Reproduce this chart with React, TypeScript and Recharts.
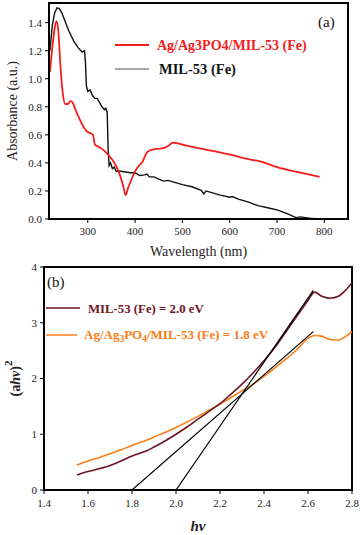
import React from "react";
import {
  LineChart,
  Line,
  XAxis,
  YAxis,
  ReferenceArea,
  Legend,
  Label,
} from "recharts";

// panel (a): UV-vis absorbance
const WL_COMPOSITE = [
  220, 226, 230, 234, 238, 242, 247, 252, 258, 263, 268, 275, 283, 292, 300,
  307, 311, 315, 320, 330, 340, 350, 358, 365, 372, 376, 380, 385, 392, 400,
  408, 416, 424, 432, 445, 460, 470, 480, 490, 500, 550, 600, 650, 660, 700,
  750, 790,
];
const ABS_COMPOSITE = [
  1.05, 1.25, 1.36, 1.41, 1.33, 1.1, 0.9, 0.82, 0.82, 0.84, 0.83, 0.77, 0.71,
  0.65, 0.62, 0.61, 0.6, 0.53, 0.52, 0.5, 0.47, 0.43, 0.39, 0.34, 0.27, 0.22,
  0.17, 0.22, 0.28, 0.34, 0.38, 0.41, 0.47, 0.49, 0.5, 0.505, 0.52, 0.545,
  0.54, 0.53, 0.495, 0.46, 0.42, 0.415, 0.37, 0.33, 0.3,
];
const WL_MIL = [
  220, 225, 230, 235, 240, 245, 252, 260, 270, 280, 288, 293, 295, 297, 300,
  305, 310, 315, 320, 325, 330, 335, 338, 341, 343, 345, 348, 352, 356, 360,
  370, 380, 390, 400, 410, 420, 425, 430, 440, 450, 460, 470, 480, 500, 520,
  540, 545, 550, 560, 580, 600, 605, 620, 640, 660, 680, 700, 720, 740, 750,
  760, 770, 785,
];
const ABS_MIL = [
  1.2, 1.38, 1.47, 1.505, 1.5, 1.47, 1.41, 1.34, 1.27, 1.22, 1.19, 1.2, 1.12,
  0.95, 0.91, 0.92, 0.88, 0.86, 0.86, 0.83, 0.8, 0.78, 0.79, 0.76, 0.5, 0.38,
  0.4, 0.36, 0.37, 0.34, 0.34, 0.335, 0.33, 0.33, 0.31, 0.315, 0.32, 0.3, 0.3,
  0.285, 0.27, 0.275, 0.265, 0.245, 0.23, 0.205, 0.18, 0.2, 0.19, 0.17, 0.155,
  0.16, 0.14, 0.12, 0.095, 0.08, 0.065, 0.04, 0.01, 0.015, 0.01, 0.005, 0,
];
const WL_TICKS = [300, 400, 500, 600, 700, 800];
const ABS_TICKS = [0, 0.2, 0.4, 0.6, 0.8, 1, 1.2, 1.4];

// panel (b): Tauc plot
const HV = [
  1.55, 1.6, 1.65, 1.7, 1.75, 1.8, 1.85, 1.87, 1.9, 1.95, 2.0, 2.05, 2.1, 2.15,
  2.2, 2.25, 2.3, 2.35, 2.4, 2.45, 2.5, 2.55, 2.6, 2.63, 2.66, 2.7, 2.74, 2.77,
  2.8,
];
const TAUC_MIL = [
  0.27, 0.33, 0.38, 0.44, 0.52, 0.61, 0.68, 0.71, 0.77, 0.88, 1.0, 1.13, 1.27,
  1.41, 1.55, 1.72, 1.9, 2.1, 2.32, 2.56, 2.84, 3.12, 3.4, 3.55, 3.48, 3.44,
  3.48, 3.58, 3.72,
];
const TAUC_COMPOSITE = [
  0.45, 0.52, 0.58, 0.65, 0.72, 0.8, 0.87, 0.9, 0.95, 1.03, 1.12, 1.22, 1.32,
  1.43, 1.54, 1.66, 1.78, 1.9, 2.04, 2.19, 2.35, 2.52, 2.72, 2.77, 2.76, 2.7,
  2.69, 2.75, 2.84,
];
const FIT_COMPOSITE_HV = [1.8, 2.624];
const FIT_COMPOSITE_Y = [0, 2.84];
const FIT_MIL_HV = [2.0, 2.624];
const FIT_MIL_Y = [0, 3.58];
const HV_TICKS = [1.4, 1.6, 1.8, 2.0, 2.2, 2.4, 2.6, 2.8];
const TAUC_TICKS = [0, 1, 2, 3, 4];

const SERIF = "Liberation Serif";
const RED = "#f21d1d";
const MAROON = "#6e1424";
const ORANGE = "#fb7d17";

const zip = (xs: number[], ys: number[], k: string) =>
  xs.map((x, i) => ({ x, [k]: ys[i] }));

const compositeAbs = zip(WL_COMPOSITE, ABS_COMPOSITE, "abs");
const milAbs = zip(WL_MIL, ABS_MIL, "abs");
const milTauc = zip(HV, TAUC_MIL, "y");
const compositeTauc = zip(HV, TAUC_COMPOSITE, "y");
const fitComposite = zip(FIT_COMPOSITE_HV, FIT_COMPOSITE_Y, "y");
const fitMil = zip(FIT_MIL_HV, FIT_MIL_Y, "y");

const tickStyle = { fontSize: 11, fill: "#222", fontFamily: SERIF };

function TopLegend() {
  return (
    <div style={{ position: "relative", height: 0 }}>
      <svg
        width={360}
        height={90}
        style={{ position: "absolute", left: 0, top: 0, overflow: "visible" }}
      >
        <line x1={115} x2={149} y1={45} y2={45} stroke={RED} strokeWidth={2} />
        <text x={157} y={49.5} fill={RED} fontWeight="bold" fontSize={14}>
          Ag/Ag3PO4/MIL-53 (Fe)
        </text>
        <line x1={115} x2={149} y1={69} y2={69} stroke="#555" strokeWidth={1} />
        <text x={159} y={74} fill="#111" fontWeight="bold" fontSize={14.5}>
          MIL-53 (Fe)
        </text>
        <text x={318} y={27} fill="#111" fontSize={15}>
          (a)
        </text>
      </svg>
    </div>
  );
}

function BottomLegend() {
  return (
    <div style={{ position: "relative", height: 0 }}>
      <svg
        width={360}
        height={90}
        style={{ position: "absolute", left: 0, top: 0, overflow: "visible" }}
      >
        <text x={47} y={27} fill="#111" fontSize={15}>
          (b)
        </text>
        <line x1={46} x2={80} y1={48} y2={48} stroke={MAROON} strokeWidth={1.5} />
        <text x={88} y={53} fill={MAROON} fontWeight="bold" fontSize={12.8}>
          MIL-53 (Fe) = 2.0 eV
        </text>
        <line x1={46} x2={77} y1={75} y2={75} stroke={ORANGE} strokeWidth={1.5} />
        <text x={84} y={79} fill={ORANGE} fontWeight="bold" fontSize={13}>
          Ag/Ag
          <tspan dy={3} fontSize={9.5}>3</tspan>
          <tspan dy={-3}>PO</tspan>
          <tspan dy={3} fontSize={9.5}>4</tspan>
          <tspan dy={-3}>/MIL-53 (Fe) = 1.8 eV</tspan>
        </text>
      </svg>
    </div>
  );
}

function AbsLabel(props: any) {
  const vb = props.viewBox || { y: 3, height: 216 };
  const cy = vb.y + vb.height / 2;
  return (
    <text
      x={12}
      y={cy}
      transform={`rotate(-90 12 ${cy})`}
      textAnchor="middle"
      dominantBaseline="central"
      fontSize={14}
      fill="#222"
    >
      Absorbance (a.u.)
    </text>
  );
}

function TaucLabel(props: any) {
  const vb = props.viewBox || { y: 7, height: 223 };
  const cy = vb.y + vb.height / 2;
  return (
    <text
      x={15}
      y={cy}
      transform={`rotate(-90 15 ${cy})`}
      textAnchor="middle"
      dominantBaseline="central"
      fontSize={14}
      fontWeight="bold"
      fill="#222"
    >
      (a<tspan fontStyle="italic">hv</tspan>)
      <tspan dy={-7} fontSize={11}>2</tspan>
    </text>
  );
}

export default function App() {
  return (
    <div
      style={{
        position: "absolute",
        left: 0,
        top: 0,
        width: 360,
        height: 535,
        background: "#fff",
        fontFamily: SERIF,
      }}
    >
      <style>{`svg text { font-family: "Liberation Serif", "Times New Roman", serif !important; }`}</style>
      <div style={{ position: "absolute", left: 0, top: 0 }}>
        <LineChart width={360} height={262} margin={{ top: 3, right: 12, bottom: 0, left: 0 }}>
          <XAxis
            type="number"
            dataKey="x"
            domain={[218, 850]}
            ticks={WL_TICKS}
            allowDataOverflow
            height={43}
            tick={tickStyle}
            tickSize={4}
            tickMargin={4}
            axisLine={{ stroke: "#000", strokeWidth: 2 }}
            tickLine={{ stroke: "#000" }}
          >
            <Label
              value="Wavelength (nm)"
              position="insideBottom"
              offset={6}
              style={{ fontSize: 14, fill: "#222" }}
            />
          </XAxis>
          <YAxis
            type="number"
            domain={[0, 1.54]}
            ticks={ABS_TICKS}
            allowDataOverflow
            width={49}
            tick={tickStyle}
            tickSize={4}
            tickMargin={3}
            tickFormatter={(v: number) => v.toFixed(1)}
            axisLine={{ stroke: "#000", strokeWidth: 2 }}
            tickLine={{ stroke: "#000" }}
            label={<AbsLabel />}
          />
          <ReferenceArea
            x1={218}
            x2={850}
            y1={0}
            y2={1.54}
            fill="none"
            stroke="#000"
            strokeWidth={2}
            ifOverflow="visible"
          />
          <Line
            data={milAbs}
            dataKey="abs"
            stroke="#111"
            strokeWidth={1.4}
            dot={false}
            type="linear"
            isAnimationActive={false}
          />
          <Line
            data={compositeAbs}
            dataKey="abs"
            stroke={RED}
            strokeWidth={1.8}
            dot={false}
            type="monotone"
            isAnimationActive={false}
          />
          <Legend
            content={<TopLegend />}
            wrapperStyle={{ left: 0, top: 0, width: 360, height: 0 }}
          />
        </LineChart>
      </div>
      <div style={{ position: "absolute", left: 0, top: 260 }}>
        <LineChart width={360} height={275} margin={{ top: 7, right: 8, bottom: 0, left: 0 }}>
          <XAxis
            type="number"
            dataKey="x"
            domain={[1.4, 2.8]}
            ticks={HV_TICKS}
            allowDataOverflow
            height={45}
            tick={tickStyle}
            tickSize={4}
            tickMargin={5}
            tickFormatter={(v: number) => v.toFixed(1)}
            axisLine={{ stroke: "#000", strokeWidth: 2 }}
            tickLine={{ stroke: "#000" }}
          >
            <Label
              value="hv"
              position="insideBottom"
              offset={4}
              style={{
                fontSize: 15,
                fontWeight: "bold",
                fontStyle: "italic",
                fill: "#222",
              }}
            />
          </XAxis>
          <YAxis
            type="number"
            domain={[0, 4]}
            ticks={TAUC_TICKS}
            allowDataOverflow
            width={44}
            tick={tickStyle}
            tickSize={4}
            tickMargin={3}
            axisLine={{ stroke: "#000", strokeWidth: 2 }}
            tickLine={{ stroke: "#000" }}
            label={<TaucLabel />}
          />
          <ReferenceArea
            x1={1.4}
            x2={2.8}
            y1={0}
            y2={4}
            fill="none"
            stroke="#000"
            strokeWidth={2}
            ifOverflow="visible"
          />
          <Line
            data={compositeTauc}
            dataKey="y"
            stroke={ORANGE}
            strokeWidth={1.6}
            dot={false}
            type="monotone"
            isAnimationActive={false}
          />
          <Line
            data={milTauc}
            dataKey="y"
            stroke={MAROON}
            strokeWidth={1.6}
            dot={false}
            type="monotone"
            isAnimationActive={false}
          />
          <Line
            data={fitComposite}
            dataKey="y"
            stroke="#000"
            strokeWidth={1.2}
            dot={false}
            type="linear"
            isAnimationActive={false}
          />
          <Line
            data={fitMil}
            dataKey="y"
            stroke="#000"
            strokeWidth={1.2}
            dot={false}
            type="linear"
            isAnimationActive={false}
          />
          <Legend
            content={<BottomLegend />}
            wrapperStyle={{ left: 0, top: 0, width: 360, height: 0 }}
          />
        </LineChart>
      </div>
    </div>
  );
}
